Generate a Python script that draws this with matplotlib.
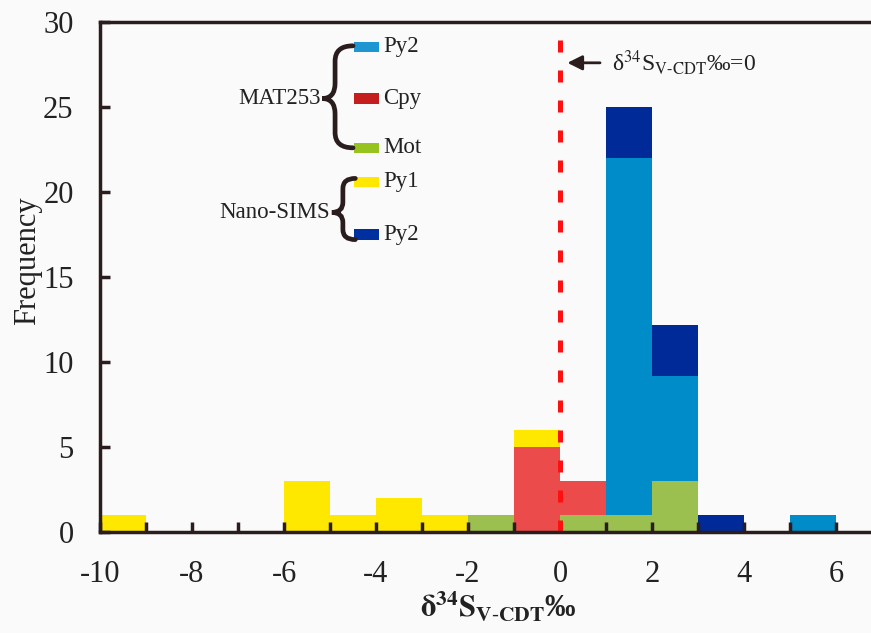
import numpy as np
import matplotlib
matplotlib.use("Agg")
import matplotlib.pyplot as plt
from matplotlib.patches import Rectangle, PathPatch
from matplotlib.path import Path

plt.rcParams['font.family'] = ['Liberation Serif', 'DejaVu Serif']
plt.rcParams['mathtext.fontset'] = 'stix'
plt.rcParams['axes.unicode_minus'] = False

# histogram bins (left edges, width 1 per mil)
bins = np.arange(-10, 6)
# counts per bin, stacked bottom to top
mot = [0, 0, 0, 0, 0, 0, 0, 0, 1, 0, 1, 1, 3, 0, 0, 0]
cpy = [0, 0, 0, 0, 0, 0, 0, 0, 0, 5, 2, 0, 0, 0, 0, 0]
py1 = [1, 0, 0, 0, 3, 1, 2, 1, 0, 1, 0, 0, 0, 0, 0, 0]
py2_mat = [0, 0, 0, 0, 0, 0, 0, 0, 0, 0, 0, 21, 6.2, 0, 0, 1]
py2_nano = [0, 0, 0, 0, 0, 0, 0, 0, 0, 0, 0, 3, 3, 1, 0, 0]

series = [mot, cpy, py1, py2_mat, py2_nano]
colors = ['#9cc04f', '#ec4b4b', '#ffe800', '#008cc8', '#002a98']
legend_colors = ['#1e96d2', '#c41e1e', '#96c31e', '#ffe800', '#0030a0']
legend_names = ['Py2', 'Cpy', 'Mot', 'Py1', 'Py2']
legend_y = [28.55, 25.5, 22.6, 20.6, 17.5]

edge = '#2b1d1d'

fig = plt.figure(figsize=(8.71, 6.33), dpi=100, facecolor='#fafafa')
ax = fig.add_axes([0.1148, 0.1596, 0.8852, 0.8056], facecolor='#fafafa')

bottom = np.zeros(len(bins))
for s, c in zip(series, colors):
    ax.bar(bins, s, width=1, bottom=bottom, align='edge', color=c, linewidth=0)
    bottom += np.array(s)

ax.set_xlim(-10, 6.76)
ax.set_ylim(0, 30)
ax.set_xticks(np.arange(-10, 7, 2))
ax.set_xticks(np.arange(-10, 7, 1), minor=True)
ax.set_yticks(np.arange(0, 31, 5))
ax.tick_params(which='both', direction='in', length=7, width=2.5, color=edge,
               labelsize=22, labelcolor='#222')
ax.tick_params(axis='x', pad=20)
ax.tick_params(axis='y', pad=19)
for side in ['left', 'bottom', 'top']:
    ax.spines[side].set_linewidth(2.5)
    ax.spines[side].set_color(edge)
ax.spines['right'].set_visible(False)

# dashed zero line
ax.axvline(0, ymin=0, ymax=0.97, color='#ff1010', lw=3.6, dashes=(2.4, 3.6))
ax.annotate('', xy=(0.1, 27.6), xytext=(0.93, 27.6),
            arrowprops=dict(arrowstyle='-|>', color='#2b1d1d', lw=2,
                            mutation_scale=22))
ax.text(1.13, 27.6, r'δ$^{34}$S$_{\mathrm{V\text{-}CDT}}$‰=0', fontsize=17,
        va='center', ha='left', color='#222')

# custom legend
for y, c, name in zip(legend_y, legend_colors, legend_names):
    ax.add_patch(Rectangle((-4.48, y - 0.3), 0.54, 0.6, color=c, lw=0))
    ax.text(-3.85, y, name, fontsize=16.5, va='center', ha='left', color='#222')


def brace(xt, xs, xe, yt, ym, yb, d=0.9):
    verts = [(xe, yt), (xs, yt), (xs, yt - d),
             (xs, ym + d), (xs, ym), (xt, ym),
             (xs, ym), (xs, ym - d),
             (xs, yb + d), (xs, yb), (xe, yb)]
    codes = [Path.MOVETO, Path.CURVE3, Path.CURVE3,
             Path.LINETO, Path.CURVE3, Path.CURVE3,
             Path.CURVE3, Path.CURVE3,
             Path.LINETO, Path.CURVE3, Path.CURVE3]
    ax.add_patch(PathPatch(Path(verts, codes), fill=False, lw=3.4,
                           edgecolor='#2b1d1d', capstyle='round'))


brace(-5.17, -4.89, -4.5, 28.6, 25.5, 22.6)
brace(-4.96, -4.72, -4.45, 20.8, 18.8, 17.2, d=0.6)
ax.text(-5.2, 25.5, 'MAT253', fontsize=16.5, va='center', ha='right', color='#222')
ax.text(-5.0, 18.8, 'Nano-SIMS', fontsize=16.5, va='center', ha='right', color='#222')

fig.text(28 / 871, 1 - 261 / 633, 'Frequency', rotation=90, fontsize=22,
         ha='center', va='center', color='#222')
fig.text(498 / 871, 1 - 607 / 633,
         r'$\mathbf{\delta}^{\mathbf{34}}\mathbf{S}_{\mathbf{V\text{-}CDT}}$‰',
         fontsize=22, fontweight='bold', ha='center', va='center', color='#222')

fig.savefig('out.png', dpi=100, facecolor=fig.get_facecolor())
